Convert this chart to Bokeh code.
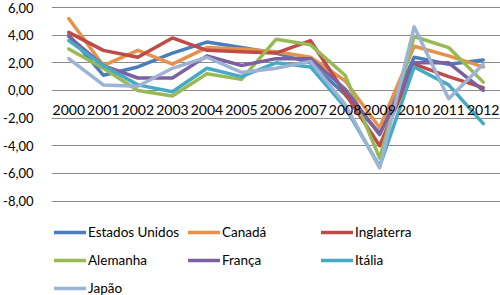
from bokeh.plotting import figure
from bokeh.models import (Range1d, FixedTicker, LinearAxis, Legend, LegendItem)
from bokeh.embed import file_html
from bokeh.resources import INLINE

years = list(range(2000, 2013))
year_labels = [str(y) for y in years]

estados_unidos = [4.0, 1.1, 1.7, 2.7, 3.5, 3.1, 2.7, 2.0, -0.3, -3.1, 2.4, 1.9, 2.2]
canada = [5.2, 1.8, 2.9, 1.9, 3.1, 3.0, 2.8, 2.4, 0.7, -2.7, 3.2, 2.5, 1.7]
inglaterra = [4.2, 2.9, 2.4, 3.8, 2.9, 2.8, 2.7, 3.6, -0.2, -4.0, 1.9, 1.0, 0.2]
alemanha = [3.0, 1.6, 0.0, -0.4, 1.2, 0.8, 3.7, 3.3, 1.1, -4.9, 3.9, 3.1, 0.6]
franca = [3.9, 1.8, 0.9, 0.9, 2.5, 1.8, 2.3, 2.3, 0.1, -3.2, 2.0, 2.0, 0.0]
italia = [3.6, 1.8, 0.4, -0.1, 1.6, 1.0, 2.0, 1.7, -1.2, -5.5, 1.7, 0.4, -2.4]
japao = [2.3, 0.4, 0.3, 1.6, 2.4, 1.3, 1.6, 2.1, -1.0, -5.6, 4.6, -0.6, 1.9]

series_names = ["Estados Unidos", "Canadá", "Inglaterra", "Alemanha", "França", "Itália", "Japão"]
series_values = [estados_unidos, canada, inglaterra, alemanha, franca, italia, japao]
colors = ["#4A7EBB", "#E8914B", "#BE4B48", "#98B954", "#7D60A0", "#46AAC5", "#9DB3D6"]

y_ticks = [6, 4, 2, 0, -2, -4, -6, -8]
y_tick_labels = ["6,00", "4,00", "2,00", "0,00", "-2,00", "-4,00", "-6,00", "-8,00"]

FONT = "Lato"
FS_Y = "13px"
FS_X = "14px"
FS_LEG = "13.5px"
TXT = "#000000"

top_px = 7.0
bottom_px = 200.5
px_per_unit = (bottom_px - top_px) / 14.0
H = 295
y_end = 6 + top_px / px_per_unit
y_start = 6 - (H - top_px) / px_per_unit

p = figure(width=500, height=H, output_backend="svg", toolbar_location=None,
           x_range=Range1d(1999.5, 2012.5), y_range=Range1d(y_start, y_end),
           x_axis_location=None, y_axis_location="left",
           min_border_left=46, min_border_right=0, min_border_top=0, min_border_bottom=0)
p.outline_line_color = None
p.background_fill_color = "white"
p.border_fill_color = "white"

# y axis
p.yaxis.ticker = FixedTicker(ticks=y_ticks)
p.yaxis.major_label_overrides = {t: l for t, l in zip(y_ticks, y_tick_labels)}
p.yaxis.axis_line_color = None
p.yaxis.major_tick_line_color = None
p.yaxis.minor_tick_line_color = None
p.yaxis.major_label_standoff = 12
p.yaxis.major_label_text_font = FONT
p.yaxis.major_label_text_font_size = FS_Y
p.yaxis.major_label_text_color = TXT

p.ygrid.ticker = FixedTicker(ticks=y_ticks)
p.ygrid.grid_line_color = "#8C8C8C"
p.ygrid.grid_line_width = 1
p.xgrid.grid_line_color = None

# x axis crossing at 0
xaxis = LinearAxis(fixed_location=0, ticker=FixedTicker(ticks=years))
xaxis.major_label_overrides = {y: l for y, l in zip(years, year_labels)}
xaxis.axis_line_color = None
xaxis.major_tick_line_color = None
xaxis.minor_tick_line_color = None
xaxis.major_label_standoff = 9
xaxis.major_label_text_font = FONT
xaxis.major_label_text_font_size = FS_X
xaxis.major_label_text_color = TXT
p.add_layout(xaxis, "below")

renderers = []
for name, vals, c in zip(series_names, series_values, colors):
    r = p.line(years, vals, line_color=c, line_width=3.5, line_join="round", line_cap="round")
    renderers.append(r)

def make_legend(idx, loc):
    items = [LegendItem(label=series_names[i], renderers=[renderers[i]]) for i in idx]
    lg = Legend(items=items, location=loc, orientation="vertical",
                padding=0, margin=0, spacing=8, glyph_width=32, glyph_height=20,
                label_standoff=2, label_text_font=FONT, label_text_font_size=FS_LEG,
                label_text_color=TXT, border_line_color=None,
                background_fill_alpha=0, label_height=20)
    p.add_layout(lg, "center")

make_legend([0, 3, 6], (3, -3))
make_legend([1, 4], (137, 25))
make_legend([2, 5], (270, 25))

open("out.html", "w").write(file_html(p, INLINE))
